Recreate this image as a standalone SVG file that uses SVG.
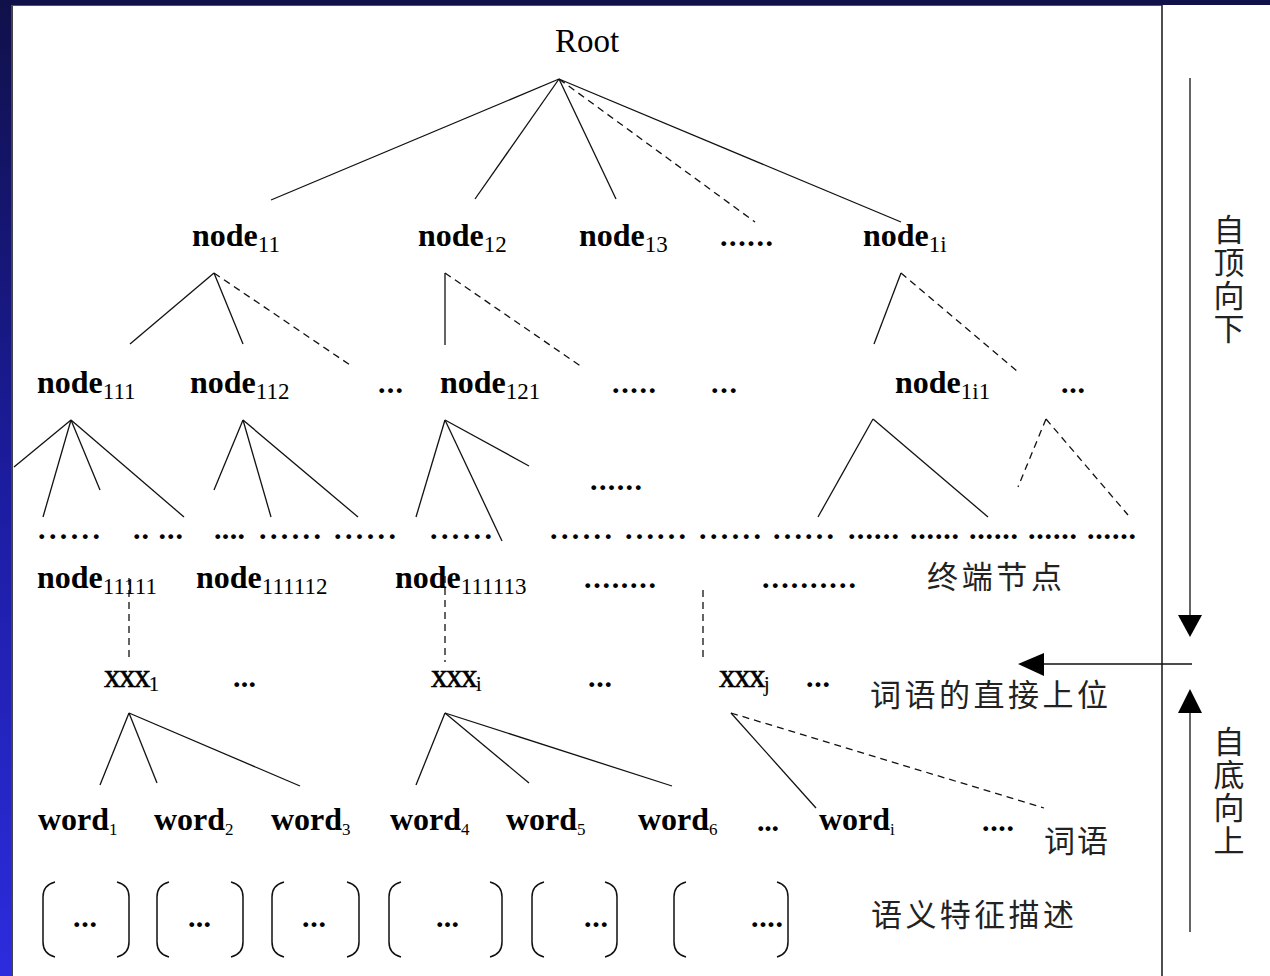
<svg xmlns="http://www.w3.org/2000/svg" width="1270" height="976" viewBox="0 0 1270 976">
<defs>
<linearGradient id="side" x1="0" y1="0" x2="0" y2="1">
<stop offset="0" stop-color="#10104a"/>
<stop offset="0.5" stop-color="#1c1ca0"/>
<stop offset="1" stop-color="#2c2cde"/>
</linearGradient>
<style>
.lb{font-family:"Liberation Serif","Times New Roman",serif;font-weight:bold;font-size:32px;fill:#000}
.rg{font-family:"Liberation Serif","Times New Roman",serif;font-weight:normal;fill:#000}
.sb{font-weight:normal;font-size:23px}
.ws{font-weight:normal;font-size:17px}
.xx{font-family:"Liberation Serif","Times New Roman",serif;font-weight:normal;font-size:33px;fill:#000;stroke:#000;stroke-width:0.6;letter-spacing:-1.5px}
.xs{font-size:20px;stroke-width:0.2;letter-spacing:0}
.dt{font-family:"Liberation Serif","Times New Roman",serif;font-weight:bold;font-size:30px;fill:#000}
.cn{font-family:"Noto Sans CJK SC","Noto Sans CJK JP",sans-serif;font-size:31px;fill:#222}
.vt{writing-mode:vertical-rl;letter-spacing:2px}
.ln{stroke:#111;stroke-width:1.3;fill:none}
.ds{stroke:#111;stroke-width:1.3;fill:none;stroke-dasharray:7 5}
.br{stroke:#111;stroke-width:1.5;fill:none}
</style>
</defs>
<rect x="0" y="0" width="1270" height="976" fill="#fff"/>
<rect x="0" y="0" width="1270" height="5" fill="#10104a"/>
<rect x="0" y="0" width="11" height="976" fill="url(#side)"/>
<line x1="12" y1="5" x2="12" y2="976" stroke="#444" stroke-width="2"/>
<line x1="12" y1="5.5" x2="1162" y2="5.5" stroke="#555" stroke-width="1.2"/>
<line x1="1162" y1="5" x2="1162" y2="976" stroke="#222" stroke-width="1.6"/>

<g id="connectors">
<line class="ln" x1="559" y1="79" x2="271" y2="200"/>
<line class="ln" x1="559" y1="79" x2="475" y2="199"/>
<line class="ln" x1="559" y1="79" x2="616" y2="199"/>
<line class="ds" x1="559" y1="79" x2="755" y2="222"/>
<line class="ln" x1="559" y1="79" x2="901" y2="222"/>

<line class="ln" x1="214" y1="273" x2="130" y2="344"/>
<line class="ln" x1="214" y1="273" x2="243" y2="344"/>
<line class="ds" x1="214" y1="273" x2="353" y2="367"/>
<line class="ln" x1="445" y1="273" x2="445" y2="345"/>
<line class="ds" x1="445" y1="273" x2="582" y2="367"/>
<line class="ln" x1="901" y1="273" x2="874" y2="344"/>
<line class="ds" x1="901" y1="273" x2="1017" y2="371"/>

<line class="ln" x1="71" y1="420" x2="14" y2="467"/>
<line class="ln" x1="71" y1="420" x2="43" y2="517"/>
<line class="ln" x1="71" y1="420" x2="100" y2="490"/>
<line class="ln" x1="71" y1="420" x2="184" y2="517"/>
<line class="ln" x1="243" y1="420" x2="214" y2="490"/>
<line class="ln" x1="243" y1="420" x2="271" y2="517"/>
<line class="ln" x1="243" y1="420" x2="358" y2="517"/>
<line class="ln" x1="445" y1="420" x2="416" y2="517"/>
<line class="ln" x1="445" y1="420" x2="529" y2="466"/>
<line class="ln" x1="445" y1="420" x2="502" y2="541"/>
<line class="ln" x1="873" y1="419" x2="818" y2="517"/>
<line class="ln" x1="873" y1="419" x2="988" y2="517"/>
<line class="ds" x1="1046" y1="419" x2="1018" y2="487"/>
<line class="ds" x1="1046" y1="419" x2="1128" y2="515"/>

<line class="ds" x1="129" y1="578" x2="129" y2="662"/>
<line class="ds" x1="445" y1="576" x2="445" y2="662"/>
<line class="ds" x1="703" y1="590" x2="703" y2="662"/>

<line class="ln" x1="129" y1="713" x2="100" y2="785"/>
<line class="ln" x1="129" y1="713" x2="157" y2="783"/>
<line class="ln" x1="129" y1="713" x2="300" y2="786"/>
<line class="ln" x1="445" y1="713" x2="416" y2="785"/>
<line class="ln" x1="445" y1="713" x2="529" y2="783"/>
<line class="ln" x1="445" y1="713" x2="672" y2="786"/>
<line class="ln" x1="731" y1="713" x2="816" y2="808"/>
<line class="ds" x1="731" y1="713" x2="1044" y2="808"/>

<line class="ln" x1="1190" y1="78" x2="1190" y2="617"/>
<polygon points="1178,615 1202,615 1190,637" fill="#000"/>
<line class="ln" x1="1192" y1="664" x2="1042" y2="664"/>
<polygon points="1018,664 1044,653 1044,676" fill="#000"/>
<line class="ln" x1="1190" y1="711" x2="1190" y2="932"/>
<polygon points="1190,689 1178,713 1202,713" fill="#000"/>
</g>

<g id="root"><text class="rg" x="555" y="52" font-size="33">Root</text></g>

<g id="level1">
<text class="lb" x="192" y="246">node<tspan class="sb" dy="6">11</tspan></text>
<text class="lb" x="418" y="246">node<tspan class="sb" dy="6">12</tspan></text>
<text class="lb" x="579" y="246">node<tspan class="sb" dy="6">13</tspan></text>
<text class="dt" x="720" y="246" textLength="53" lengthAdjust="spacing">......</text>
<text class="lb" x="863" y="246">node<tspan class="sb" dy="6">1i</tspan></text>
</g>

<g id="level2">
<text class="lb" x="37" y="393">node<tspan class="sb" dy="6">111</tspan></text>
<text class="lb" x="190" y="393">node<tspan class="sb" dy="6">112</tspan></text>
<text class="dt" x="378" y="393" textLength="25" lengthAdjust="spacing">...</text>
<text class="lb" x="440" y="393">node<tspan class="sb" dy="6">121</tspan></text>
<text class="dt" x="612" y="393" textLength="44" lengthAdjust="spacing">.....</text>
<text class="dt" x="711" y="393" textLength="26" lengthAdjust="spacing">...</text>
<text class="lb" x="895" y="393">node<tspan class="sb" dy="6">1i1</tspan></text>
<text class="dt" x="1061" y="393" textLength="24" lengthAdjust="spacing">...</text>
<text class="dt" x="590" y="490" textLength="52" lengthAdjust="spacing">......</text>
</g>

<g id="terminal-dots">
<text class="dt" x="38" y="539" textLength="62" lengthAdjust="spacing">......</text>
<text class="dt" x="133" y="539" textLength="50" lengthAdjust="spacing">.. ...</text>
<text class="dt" x="214" y="539" textLength="31" lengthAdjust="spacing">....</text>
<text class="dt" x="259" y="539" textLength="62" lengthAdjust="spacing">......</text>
<text class="dt" x="334" y="539" textLength="62" lengthAdjust="spacing">......</text>
<text class="dt" x="430" y="539" textLength="62" lengthAdjust="spacing">......</text>
<text class="dt" x="550" y="539" textLength="62" lengthAdjust="spacing">......</text>
<text class="dt" x="625" y="539" textLength="61" lengthAdjust="spacing">......</text>
<text class="dt" x="699" y="539" textLength="62" lengthAdjust="spacing">......</text>
<text class="dt" x="773" y="539" textLength="61" lengthAdjust="spacing">......</text>
<text class="dt" x="848" y="539" textLength="51" lengthAdjust="spacing">......</text>
<text class="dt" x="910" y="539" textLength="49" lengthAdjust="spacing">......</text>
<text class="dt" x="969" y="539" textLength="49" lengthAdjust="spacing">......</text>
<text class="dt" x="1028" y="539" textLength="49" lengthAdjust="spacing">......</text>
<text class="dt" x="1087" y="539" textLength="49" lengthAdjust="spacing">......</text>
</g>

<g id="level3">
<text class="lb" x="37" y="588">node<tspan class="sb" dy="6">11111</tspan></text>
<text class="lb" x="196" y="588">node<tspan class="sb" dy="6">111112</tspan></text>
<text class="lb" x="395" y="588">node<tspan class="sb" dy="6">111113</tspan></text>
<text class="dt" x="584" y="588" textLength="72" lengthAdjust="spacing">........</text>
<text class="dt" x="762" y="588" textLength="94" lengthAdjust="spacing">..........</text>
<text class="cn" x="927" y="588" textLength="135" lengthAdjust="spacing">终端节点</text>
</g>

<g id="hypernyms">
<text class="xx" x="104" y="687">xxx<tspan class="xs" dy="4">1</tspan></text>
<text class="dt" x="233" y="687" textLength="23" lengthAdjust="spacing">...</text>
<text class="xx" x="431" y="687">xxx<tspan class="xs" dy="4">i</tspan></text>
<text class="dt" x="588" y="687" textLength="24" lengthAdjust="spacing">...</text>
<text class="xx" x="719" y="687">xxx<tspan class="xs" dy="4">j</tspan></text>
<text class="dt" x="806" y="687" textLength="24" lengthAdjust="spacing">...</text>
<text class="cn" x="870" y="706" textLength="238" lengthAdjust="spacing">词语的直接上位</text>
</g>

<g id="words">
<text class="lb" x="38" y="830" font-size="31">word<tspan class="ws" dy="5">1</tspan></text>
<text class="lb" x="154" y="830" font-size="31">word<tspan class="ws" dy="5">2</tspan></text>
<text class="lb" x="271" y="830" font-size="31">word<tspan class="ws" dy="5">3</tspan></text>
<text class="lb" x="390" y="830" font-size="31">word<tspan class="ws" dy="5">4</tspan></text>
<text class="lb" x="506" y="830" font-size="31">word<tspan class="ws" dy="5">5</tspan></text>
<text class="lb" x="638" y="830" font-size="31">word<tspan class="ws" dy="5">6</tspan></text>
<text class="dt" x="757" y="831" textLength="22" lengthAdjust="spacing">...</text>
<text class="lb" x="819" y="830" font-size="31">word<tspan class="ws" dy="5">i</tspan></text>
<text class="dt" x="982" y="831" textLength="32" lengthAdjust="spacing">....</text>
<text class="cn" x="1044" y="852" textLength="64" lengthAdjust="spacing">词语</text>
</g>

<g id="semantics">
<path class="br" d="M55 882 Q43 885 43 897 L43 942 Q43 954 55 957"/>
<path class="br" d="M117 882 Q129 885 129 897 L129 942 Q129 954 117 957"/>
<text class="dt" x="73" y="927" textLength="24" lengthAdjust="spacing">...</text>
<path class="br" d="M169 882 Q157 885 157 897 L157 942 Q157 954 169 957"/>
<path class="br" d="M231 882 Q243 885 243 897 L243 942 Q243 954 231 957"/>
<text class="dt" x="188" y="927" textLength="23" lengthAdjust="spacing">...</text>
<path class="br" d="M284 882 Q272 885 272 897 L272 942 Q272 954 284 957"/>
<path class="br" d="M347 882 Q359 885 359 897 L359 942 Q359 954 347 957"/>
<text class="dt" x="302" y="927" textLength="24" lengthAdjust="spacing">...</text>
<path class="br" d="M401 882 Q389 885 389 897 L389 942 Q389 954 401 957"/>
<path class="br" d="M490 882 Q502 885 502 897 L502 942 Q502 954 490 957"/>
<text class="dt" x="436" y="927" textLength="23" lengthAdjust="spacing">...</text>
<path class="br" d="M544 882 Q532 885 532 897 L532 942 Q532 954 544 957"/>
<path class="br" d="M605 882 Q617 885 617 897 L617 942 Q617 954 605 957"/>
<text class="dt" x="584" y="927" textLength="24" lengthAdjust="spacing">...</text>
<path class="br" d="M686 882 Q674 885 674 897 L674 942 Q674 954 686 957"/>
<path class="br" d="M777 882 Q788 885 788 897 L788 942 Q788 954 777 957"/>
<text class="dt" x="751" y="927" textLength="32" lengthAdjust="spacing">....</text>
<text class="cn" x="871" y="926" textLength="203" lengthAdjust="spacing">语义特征描述</text>
</g>

<g id="directions">
<text class="cn vt" x="1229" y="214">自顶向下</text>
<text class="cn vt" x="1229" y="726">自底向上</text>
</g>
</svg>
